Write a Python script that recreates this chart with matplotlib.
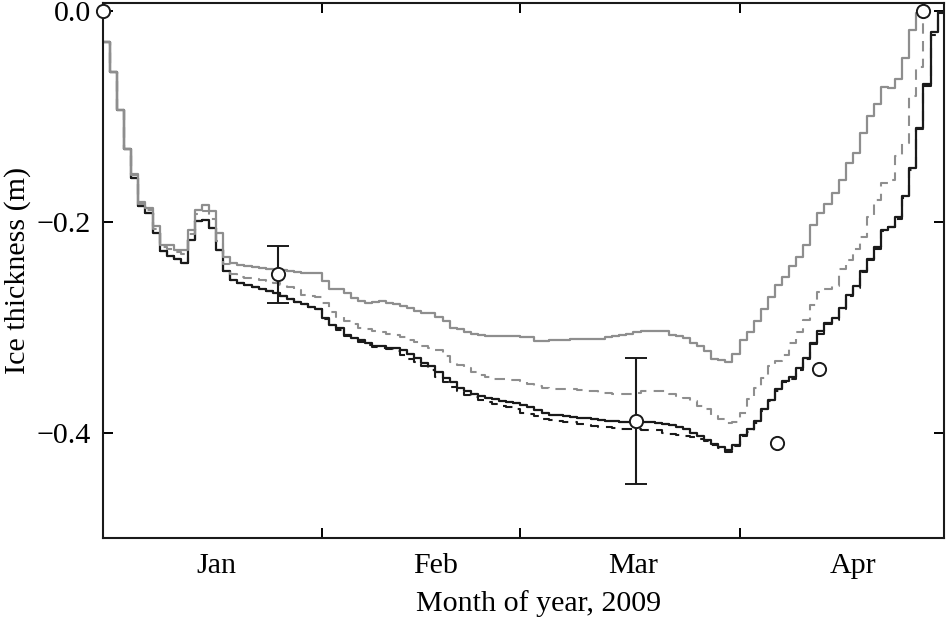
import matplotlib
matplotlib.use("Agg")
import numpy as np
import matplotlib.pyplot as plt

plt.rcParams['font.family'] = ['Liberation Serif', 'DejaVu Serif']
plt.rcParams['font.size'] = 21.6

# day 0 = 1 Jan 2009, one value per day (step)
k_solid = [-0.029, -0.0575, -0.094, -0.131, -0.158, -0.185, -0.192, -0.211, -0.228, -0.232,
           -0.235, -0.239, -0.217, -0.1995, -0.198, -0.206, -0.2265, -0.247, -0.255, -0.258,
           -0.260, -0.262, -0.264, -0.266, -0.268, -0.270, -0.273, -0.276, -0.278, -0.281,
           -0.283, -0.291, -0.298, -0.301, -0.307, -0.310, -0.312, -0.315, -0.318, -0.318,
           -0.3195, -0.320, -0.322, -0.325, -0.329, -0.334, -0.337, -0.343, -0.348, -0.352,
           -0.358, -0.361, -0.363, -0.365, -0.367, -0.368, -0.370, -0.371, -0.372, -0.374,
           -0.376, -0.379, -0.381, -0.383, -0.383, -0.384, -0.385, -0.386, -0.386, -0.387,
           -0.388, -0.389, -0.389, -0.390, -0.390, -0.390, -0.390, -0.390, -0.391, -0.392,
           -0.393, -0.395, -0.397, -0.400, -0.403, -0.407, -0.411, -0.414, -0.417, -0.412,
           -0.402, -0.397, -0.389, -0.378, -0.369, -0.359, -0.351, -0.347, -0.339, -0.329,
           -0.315, -0.304, -0.296, -0.291, -0.282, -0.269, -0.261, -0.247, -0.235, -0.224,
           -0.2075, -0.2045, -0.195, -0.176, -0.149, -0.111, -0.069, -0.020, -0.001, -0.001]

k_dash = [-0.029, -0.0575, -0.094, -0.131, -0.158, -0.185, -0.192, -0.211, -0.228, -0.232,
          -0.235, -0.239, -0.217, -0.1995, -0.198, -0.206, -0.2265, -0.247, -0.255, -0.258,
          -0.260, -0.262, -0.264, -0.266, -0.268, -0.270, -0.273, -0.276, -0.278, -0.281,
          -0.283, -0.292, -0.299, -0.303, -0.308, -0.311, -0.314, -0.317, -0.319, -0.320,
          -0.321, -0.323, -0.326, -0.330, -0.333, -0.337, -0.341, -0.347, -0.352, -0.357,
          -0.361, -0.364, -0.366, -0.369, -0.371, -0.373, -0.375, -0.376, -0.378, -0.381,
          -0.382, -0.384, -0.387, -0.3885, -0.389, -0.390, -0.390, -0.392, -0.393, -0.394,
          -0.395, -0.395, -0.396, -0.397, -0.397, -0.397, -0.398, -0.398, -0.398, -0.400,
          -0.401, -0.402, -0.403, -0.404, -0.406, -0.408, -0.412, -0.415, -0.418, -0.413,
          -0.403, -0.399, -0.391, -0.380, -0.370, -0.361, -0.352, -0.349, -0.341, -0.330,
          -0.316, -0.306, -0.297, -0.293, -0.283, -0.270, -0.263, -0.248, -0.236, -0.226,
          -0.209, -0.205, -0.197, -0.177, -0.151, -0.112, -0.071, -0.023, -0.002, -0.002]

g_solid = [-0.029, -0.0575, -0.094, -0.131, -0.155, -0.181, -0.187, -0.204, -0.222, -0.222,
           -0.2265, -0.2265, -0.2075, -0.189, -0.184, -0.190, -0.211, -0.233, -0.239, -0.241,
           -0.242, -0.243, -0.244, -0.245, -0.246, -0.246, -0.247, -0.248, -0.249, -0.249,
           -0.249, -0.256, -0.264, -0.264, -0.268, -0.272, -0.275, -0.277, -0.276, -0.275,
           -0.277, -0.278, -0.280, -0.282, -0.285, -0.2865, -0.287, -0.290, -0.294, -0.301,
           -0.302, -0.305, -0.306, -0.307, -0.308, -0.308, -0.308, -0.308, -0.308, -0.309,
           -0.309, -0.3135, -0.3135, -0.312, -0.312, -0.312, -0.311, -0.311, -0.311, -0.311,
           -0.311, -0.309, -0.308, -0.307, -0.306, -0.305, -0.304, -0.304, -0.304, -0.304,
           -0.307, -0.308, -0.310, -0.315, -0.318, -0.323, -0.330, -0.331, -0.3335, -0.325,
           -0.312, -0.305, -0.2945, -0.283, -0.271, -0.260, -0.252, -0.242, -0.233, -0.222,
           -0.203, -0.192, -0.183, -0.173, -0.160, -0.144, -0.135, -0.116, -0.100, -0.088,
           -0.072, -0.073, -0.065, -0.045, -0.018, -0.002, 0.0]

g_dash = [-0.029, -0.0575, -0.094, -0.131, -0.156, -0.183, -0.189, -0.207, -0.224, -0.226,
          -0.229, -0.231, -0.212, -0.193, -0.190, -0.197, -0.218, -0.240, -0.250, -0.252,
          -0.253, -0.254, -0.255, -0.256, -0.258, -0.260, -0.262, -0.265, -0.269, -0.270,
          -0.271, -0.277, -0.286, -0.290, -0.2945, -0.297, -0.301, -0.302, -0.304, -0.305,
          -0.306, -0.307, -0.309, -0.312, -0.314, -0.318, -0.320, -0.322, -0.327, -0.333,
          -0.336, -0.339, -0.343, -0.3455, -0.347, -0.349, -0.349, -0.350, -0.350, -0.351,
          -0.354, -0.356, -0.358, -0.359, -0.359, -0.359, -0.359, -0.360, -0.361, -0.361,
          -0.362, -0.3625, -0.363, -0.363, -0.363, -0.362, -0.361, -0.361, -0.361, -0.361,
          -0.363, -0.365, -0.367, -0.370, -0.375, -0.378, -0.384, -0.387, -0.391, -0.390,
          -0.381, -0.368, -0.358, -0.348, -0.337, -0.332, -0.326, -0.315, -0.305, -0.293,
          -0.279, -0.267, -0.264, -0.261, -0.245, -0.236, -0.226, -0.214, -0.195, -0.179,
          -0.163, -0.160, -0.138, -0.125, -0.081, -0.053, 0.0]

# observations (with and without error bars)
obs_day = [0.0, 95.3, 101.2, 116.0]
obs_val = [0.0, -0.4095, -0.340, 0.0]
err_day = [24.8, 75.3]
err_val = [-0.250, -0.389]
err_size = [0.027, 0.060]

months = ['Jan', 'Feb', 'Mar', 'Apr']
month_start = [0, 31, 59, 90]

k_days = np.arange(len(k_solid))
k_days = np.append(k_days[:-1], 118.9)
g_days = np.arange(len(g_solid))

fig = plt.figure(figsize=(9.47, 6.2), dpi=100)
ax = fig.add_axes([0.1088, 0.1323, 0.888, 0.8629])

gray = '#8e8e8e'
black = '#1a1a1a'
ax.plot(k_days, k_dash, drawstyle='steps-post', color=black, lw=1.5,
        linestyle=(0, (5, 3.5)))
ax.plot(k_days, k_solid, drawstyle='steps-post', color=black, lw=1.6)
ax.plot(g_days, g_dash, drawstyle='steps-post', color=gray, lw=1.5,
        linestyle=(0, (5, 3.5)))
ax.plot(g_days, g_solid, drawstyle='steps-post', color=gray, lw=1.6)

ax.errorbar(err_day, err_val, yerr=err_size, fmt='o', ms=9.5, mfc='white',
            mec=black, mew=1.4, ecolor=black, elinewidth=1.5, capsize=8,
            capthick=1.5, zorder=5)
ax.plot(obs_day, obs_val, 'o', ms=9.5, mfc='white', mec=black, mew=1.4,
        zorder=5, clip_on=False)

ax.set_xlim(0, 118.9)
ax.set_ylim(-0.5, 0.0076)

ax.set_xticks(month_start[1:])
ax.set_xticklabels([])
ax.set_xticks([s + 16 for s in month_start], minor=True)
ax.set_xticklabels(months, minor=True)
ax.tick_params(axis='x', which='major', direction='in', length=7.5, width=1.4,
               top=True, bottom=True)
ax.tick_params(axis='x', which='minor', length=0, pad=10.5)
ax.set_yticks([0.0, -0.2, -0.4])
ax.tick_params(axis='y', direction='in', length=7.5, width=1.4, left=True,
               right=True, pad=8.5)

for s in ax.spines.values():
    s.set_linewidth(1.5)
    s.set_color(black)

ax.set_xlabel('Month of year, 2009')
ax.xaxis.set_label_coords(0.518, -0.098)
ax.xaxis.label.set_va('top')
ax.set_ylabel('Ice thickness (m)', labelpad=4)

fig.savefig('out.png', dpi=100)
